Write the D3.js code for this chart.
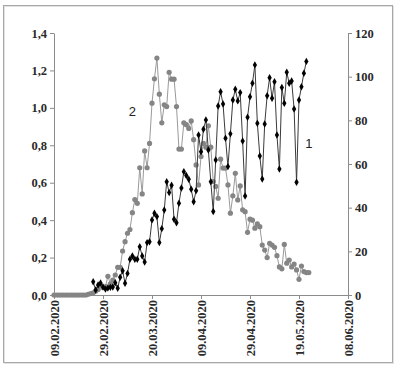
<!DOCTYPE html>
<html lang="en">
<head>
    <meta charset="UTF-8">
    <title></title>
    <style type="text/css">
        html, body { padding:0; margin:0; background:#fff; }
        .axis path, .axis line { stroke:#8c8c8c; }
        .axis text { font-family:"Liberation Serif", serif; font-weight:bold; font-size:12.5px; fill:#2a2a2a; }
        .lbl { font-family:"Liberation Sans", Arial, sans-serif; font-size:13px; fill:#222; }
    </style>
</head>
<body>
<script src="https://d3js.org/d3.v7.min.js"></script>
<script>
    // first day of the series, one value per day
    var startDate = new Date(2020, 1, 9);

    // series 2 (grey circles, left axis), from 09.02.2020
    var series2 = [
        0, 0, 0, 0, 0, 0, 0, 0, 0, 0, 0, 0, 0, 0,
        0.004, 0.008, 0.012, 0.02, 0.03, 0.05, 0.04, 0.045, 0.10, 0.06,
        0.08, 0.107, 0.148, 0.148, 0.235, 0.285, 0.33, 0.35, 0.44, 0.51,
        0.49, 0.68, 0.54, 0.77, 0.68, 0.81, 1.025, 1.155, 1.266, 1.073,
        0.92, 1.016, 1.007, 1.19, 1.153, 1.153, 1.007, 0.78, 0.78, 0.92,
        0.91, 0.89, 0.93, 0.83, 0.695, 0.588, 0.74, 0.81, 0.79, 0.904,
        0.79, 0.606, 0.58, 0.517, 0.726, 0.678, 0.678, 0.588, 0.437, 0.53,
        0.65, 0.508, 0.583, 0.455, 0.445, 0.335, 0.405, 0.40, 0.357, 0.38,
        0.365, 0.267, 0.24, 0.20, 0.276, 0.267, 0.255, 0.21, 0.15, 0.14,
        0.27, 0.17, 0.187, 0.15, 0.165, 0.134, 0.084, 0.155, 0.125, 0.12,
        0.12
    ];

    // series 1 (black diamonds, right axis), starts on day 16 (25.02.2020)
    var series1Start = 16;
    var series1 = [
        6.1, 2.3, 4.6, 5.5, 3.7, 2.7, 3.2, 3.5, 3.7, 5.6,
        3.1, 8.1, 11.1, 5.4, 9.9, 16.4, 17.9, 16.4, 16.4, 22.1,
        17.9, 15.1, 24, 24.4, 34.4, 37.4, 35.9, 24, 30.4, 38.9,
        51.9, 46.9, 50.3, 34.7, 33.1, 42, 49, 56.5, 54.7, 53,
        48.4, 42.7, 47.8, 73.3, 65.6, 75.9, 80.2, 66.4, 51.9, 38.2,
        61.8, 86.6, 93.1, 87.5, 71.8, 58.8, 73.8, 89.3, 94.2, 88.9,
        92.7, 70.5, 45.3, 81.4, 90.8, 97, 105.4, 78.7, 63.7, 53.1,
        78.3, 91.3, 99.5, 90.1, 97.7, 73.3, 57.7, 95, 87.8, 102,
        97, 98, 85.2, 51.6, 89.3, 95.4, 101.6, 107
    ];

    var leftTicks = [0, 0.2, 0.4, 0.6, 0.8, 1.0, 1.2, 1.4];
    var rightTicks = [0, 20, 40, 60, 80, 100, 120];
    var dateTicks = ['09.02.2020', '29.02.2020', '20.03.2020', '09.04.2020',
                     '29.04.2020', '19.05.2020', '08.06.2020'];

    var width = 399,
        height = 369,
        plotLeft = 54, plotRight = 348,
        plotTop = 33, plotBottom = 295;

    var parseDate = d3.timeParse('%d.%m.%Y'),
        formatDate = d3.timeFormat('%d.%m.%Y'),
        commaFmt = d3.formatLocale({decimal: ',', thousands: ' ', grouping: [3], currency: ['', '']}).format('.1f');

    var svg = d3.select('body').append('svg')
                .attr('width', width)
                .attr('height', height);

    // outer frame
    svg.append('rect')
       .attr('x', 4.5).attr('y', 6.5)
       .attr('width', 389).attr('height', 357)
       .attr('fill', 'none').attr('stroke', '#e2e2e2');
    svg.append('rect')
       .attr('x', 3.5).attr('y', 5.5)
       .attr('width', 389).attr('height', 357)
       .attr('fill', 'none').attr('stroke', '#a8a8a8');

    var scaleX = d3.scaleTime()
                   .domain([parseDate(dateTicks[0]), parseDate(dateTicks[dateTicks.length - 1])])
                   .range([plotLeft, plotRight]),
        scaleL = d3.scaleLinear().domain([0, 1.4]).range([plotBottom, plotTop]),
        scaleR = d3.scaleLinear().domain([0, 120]).range([plotBottom, plotTop]);

    var axisX = d3.axisBottom(scaleX)
                  .tickValues(dateTicks.map(parseDate))
                  .tickFormat(formatDate)
                  .tickSize(4).tickSizeOuter(0),
        axisL = d3.axisLeft(scaleL)
                  .tickValues(leftTicks)
                  .tickFormat(commaFmt)
                  .tickSize(4).tickSizeOuter(0).tickPadding(3),
        axisR = d3.axisRight(scaleR)
                  .tickValues(rightTicks)
                  .tickSize(4).tickSizeOuter(0).tickPadding(3);

    svg.append('g')
       .attr('class', 'axis')
       .attr('transform', 'translate(0,' + plotBottom + ')')
       .call(axisX)
       .selectAll('text')
       .attr('transform', 'rotate(-90)')
       .attr('text-anchor', 'end')
       .attr('x', -5)
       .attr('y', 0)
       .attr('dy', '0.35em');

    svg.append('g')
       .attr('class', 'axis')
       .attr('transform', 'translate(' + plotLeft + ',0)')
       .call(axisL);

    svg.append('g')
       .attr('class', 'axis')
       .attr('transform', 'translate(' + plotRight + ',0)')
       .call(axisR);

    var data2 = series2.map(function(v, i) {
        return {date: d3.timeDay.offset(startDate, i), v: v};
    });
    var data1 = series1.map(function(v, i) {
        return {date: d3.timeDay.offset(startDate, series1Start + i), v: v};
    });

    var line2 = d3.line()
                  .x(function(d) { return scaleX(d.date); })
                  .y(function(d) { return scaleL(d.v); });
    var line1 = d3.line()
                  .x(function(d) { return scaleX(d.date); })
                  .y(function(d) { return scaleR(d.v); });

    svg.append('path')
       .datum(data2)
       .attr('d', line2)
       .attr('fill', 'none')
       .attr('stroke', '#9a9a9a')
       .attr('stroke-width', 1);

    svg.selectAll('circle.s2')
       .data(data2)
       .enter()
       .append('circle')
       .attr('class', 's2')
       .attr('cx', function(d) { return scaleX(d.date); })
       .attr('cy', function(d) { return scaleL(d.v); })
       .attr('r', 2.6)
       .attr('fill', '#858585');

    svg.append('path')
       .datum(data1)
       .attr('d', line1)
       .attr('fill', 'none')
       .attr('stroke', '#3a3a3a')
       .attr('stroke-width', 1);

    var diamond = d3.symbol().type(d3.symbolDiamond).size(16);

    svg.selectAll('path.s1')
       .data(data1)
       .enter()
       .append('path')
       .attr('class', 's1')
       .attr('d', diamond)
       .attr('transform', function(d) {
            return 'translate(' + scaleX(d.date) + ',' + scaleR(d.v) + ')';
       })
       .attr('fill', '#000');

    // series labels
    svg.append('text')
       .attr('class', 'lbl')
       .attr('x', scaleX(d3.timeDay.offset(startDate, 32)))
       .attr('y', scaleL(0.955))
       .attr('text-anchor', 'middle')
       .text('2');

    svg.append('text')
       .attr('class', 'lbl')
       .attr('x', scaleX(d3.timeDay.offset(startDate, 104)))
       .attr('y', scaleR(67.5))
       .attr('text-anchor', 'middle')
       .text('1');
</script>
</body>
</html>
